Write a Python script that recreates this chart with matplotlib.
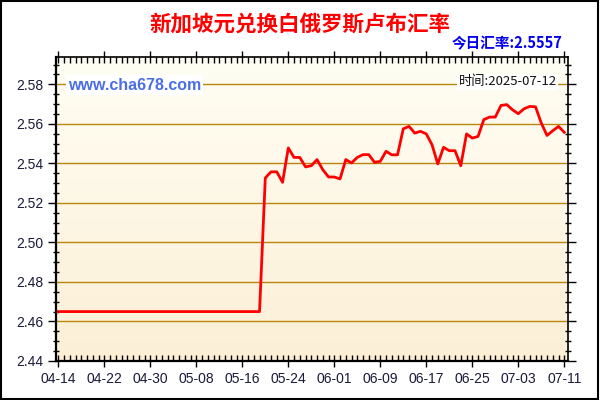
import numpy as np
import pandas as pd
import matplotlib
matplotlib.use("Agg")
import matplotlib.pyplot as plt
from matplotlib.patches import Rectangle
from matplotlib.ticker import MultipleLocator

# ---- data ----
title = "新加坡元兑换白俄罗斯卢布汇率"
today_label = "今日汇率:2.5557"
site_label = "www.cha678.com"
time_label = "时间:2025-07-12"

dates = pd.date_range("2025-04-14", "2025-07-11", freq="D")
flat_values = [2.465] * 36
later_values = [
    2.5326, 2.5357, 2.5357, 2.5304, 2.5478, 2.5430, 2.5430, 2.5382, 2.5388, 2.5419,
    2.5368, 2.5331, 2.5331, 2.5321, 2.5419, 2.5402, 2.5430, 2.5444, 2.5444, 2.5405,
    2.5410, 2.5461, 2.5443, 2.5443, 2.5575, 2.5587, 2.5553, 2.5562, 2.5549, 2.5494,
    2.5397, 2.5481, 2.5464, 2.5464, 2.5388, 2.5549, 2.5528, 2.5536, 2.5621, 2.5634,
    2.5634, 2.5693, 2.5697, 2.5671, 2.5651, 2.5676, 2.5688, 2.5686, 2.5604, 2.5541,
    2.5565, 2.5587, 2.5557,
]
values = flat_values + later_values
xtick_labels = ["04-14", "04-22", "04-30", "05-08", "05-16", "05-24",
                "06-01", "06-09", "06-17", "06-25", "07-03", "07-11"]
ytick_values = [2.44, 2.46, 2.48, 2.50, 2.52, 2.54, 2.56, 2.58]

# ---- figure ----
plt.rcParams['font.family'] = ['Liberation Sans', 'Noto Sans CJK SC', 'DejaVu Sans']
fig = plt.figure(figsize=(6, 4), dpi=100)
fig.patch.set_facecolor("white")
ax = fig.add_axes([56 / 600, 1 - 361 / 400, (568.3 - 56) / 600, (361 - 57) / 400])

days = np.array([(d - dates[0]).days for d in dates])
xmin, xmax = -0.4, 88.7
ymin, ymax = 2.44, 2.5938

# gradient background
grad = np.linspace(0, 1, 256).reshape(-1, 1)
top_c = np.array([255, 254, 244]) / 255
bot_c = np.array([252, 239, 214]) / 255
img = top_c * (1 - grad)[..., None] + bot_c * grad[..., None]
img = img.reshape(256, 1, 3)
ax.imshow(img, extent=[xmin, xmax, ymin, ymax], aspect="auto", origin="upper", zorder=0)

for yv in ytick_values:
    ax.axhline(yv, color="#B8860B", lw=1.0, zorder=1)

ax.plot(days, values, color="#FF0000", lw=2.0, zorder=3, solid_joinstyle="round")

ax.set_xlim(xmin, xmax)
ax.set_ylim(ymin, ymax)

tick_days = [(pd.Timestamp("2025-" + t) - dates[0]).days for t in xtick_labels]
ax.set_xticks(tick_days)
ax.set_xticklabels(xtick_labels)
ax.xaxis.set_minor_locator(MultipleLocator(1))
ax.set_yticks(ytick_values)
ax.set_yticklabels([f"{v:.2f}" for v in ytick_values])
ax.yaxis.set_minor_locator(MultipleLocator(0.005))

label_color = "#1a1a3a"
ax.tick_params(axis="x", which="major", direction="inout", length=8, width=1,
               labelsize=10, labelcolor=label_color, pad=4, top=True)
ax.tick_params(axis="x", which="minor", direction="in", length=4, width=1, top=True)
ax.tick_params(axis="y", which="major", direction="out", length=6, width=1,
               labelsize=10, labelcolor=label_color, pad=3, right=True)
ax.tick_params(axis="y", which="minor", direction="inout", length=5, width=1, right=True)
for s in ["left", "bottom"]:
    ax.spines[s].set_linewidth(1.6)
for s in ["right", "top"]:
    ax.spines[s].set_linewidth(1.2)
for s in ax.spines.values():
    s.set_color("black")
    s.set_zorder(5)

# texts
fig.text(0.5, 1 - 24 / 400, title, ha="center", va="center", fontsize=15.5,
         fontweight="heavy", color="#FF0000", family=["Noto Sans CJK SC", "DejaVu Sans"])
fig.text(563 / 600, 1 - 43 / 400, today_label, ha="right", va="center", fontsize=10.5,
         fontweight="bold", color="#0000EE", family=["Noto Sans CJK SC", "DejaVu Sans"])
fig.text(68 / 600, 1 - 85 / 400, site_label, ha="left", va="center", fontsize=11.5,
         fontweight="bold", color="#4A6EE6", family=["Liberation Sans", "DejaVu Sans"],
         bbox=dict(facecolor="white", edgecolor="none", pad=1.5), zorder=10)
fig.text(557 / 600, 1 - 82 / 400, time_label, ha="right", va="center", fontsize=9.5,
         color="#111111", family=["Noto Sans CJK SC", "DejaVu Sans"],
         bbox=dict(facecolor="white", edgecolor="none", pad=1.0), zorder=10)

fig.patches.append(Rectangle((0.002, 0.003), 0.995, 0.994, transform=fig.transFigure,
                             fill=False, edgecolor="black", lw=1.5))

fig.savefig("out.png", dpi=100)
